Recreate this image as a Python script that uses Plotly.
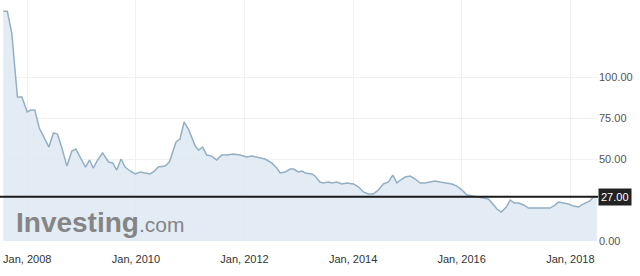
import plotly.graph_objects as go

dates = [
    "2007-07-24", "2007-08-20", "2007-09-19", "2007-10-10", "2007-10-27", "2007-11-26",
    "2008-01-01", "2008-01-25", "2008-02-21", "2008-03-22", "2008-04-23", "2008-05-26",
    "2008-06-25", "2008-07-22", "2008-08-21", "2008-09-24", "2008-10-27", "2008-11-23",
    "2008-12-29", "2009-01-27", "2009-02-23", "2009-03-20", "2009-04-19", "2009-05-22",
    "2009-07-01", "2009-07-29", "2009-08-25", "2009-09-23", "2009-10-20", "2009-11-23",
    "2009-12-27", "2010-01-30", "2010-03-03", "2010-04-06", "2010-04-28", "2010-06-01",
    "2010-07-16", "2010-08-14", "2010-09-10", "2010-09-28", "2010-10-25", "2010-11-21",
    "2010-12-20", "2011-01-12", "2011-02-04", "2011-02-26", "2011-03-26", "2011-04-22",
    "2011-05-25", "2011-06-28", "2011-08-01", "2011-09-04", "2011-10-18", "2011-12-02",
    "2012-01-17", "2012-02-20", "2012-03-23", "2012-05-18", "2012-07-02", "2012-08-06",
    "2012-08-28", "2012-10-01", "2012-11-04", "2012-11-26", "2012-12-30", "2013-01-22",
    "2013-02-13", "2013-03-29", "2013-04-20", "2013-05-23", "2013-06-15", "2013-07-18",
    "2013-08-10", "2013-09-13", "2013-10-17", "2013-11-20", "2014-01-04", "2014-02-07",
    "2014-03-11", "2014-04-14", "2014-05-17", "2014-06-20", "2014-07-23", "2014-08-26",
    "2014-09-25", "2014-10-22", "2014-11-25", "2014-12-17", "2015-01-20", "2015-02-23",
    "2015-03-27", "2015-04-30", "2015-06-02", "2015-07-06", "2015-08-09", "2015-09-23",
    "2015-10-27", "2015-11-30", "2016-01-03", "2016-02-06", "2016-03-20", "2016-05-04",
    "2016-06-07", "2016-06-29", "2016-07-29", "2016-08-25", "2016-09-23", "2016-10-27",
    "2016-11-23", "2016-12-20", "2017-01-18", "2017-02-21", "2017-03-25", "2017-04-28",
    "2017-05-31", "2017-07-04", "2017-08-18", "2017-09-21", "2017-10-13", "2017-11-16",
    "2017-12-19", "2018-01-22", "2018-02-25", "2018-03-18", "2018-04-21", "2018-05-13",
    "2018-06-05", "2018-06-28",
]
values = [
    140.2, 140.2, 126.8, 106.1, 87.8, 87.8,
    78.7, 79.9, 79.9, 68.9, 62.8, 57.3,
    65.9, 65.2, 56.7, 45.7, 54.9, 56.1,
    50.0, 45.1, 49.4, 44.5, 49.4, 53.7,
    48.2, 47.6, 43.3, 50.0, 45.1, 42.7,
    40.9, 42.1, 41.5, 40.9, 42.1, 45.1,
    45.7, 48.2, 55.5, 60.4, 62.2, 72.6,
    68.3, 62.8, 57.9, 55.5, 57.3, 52.4,
    51.8, 49.4, 52.4, 52.4, 53.0, 52.4,
    51.2, 51.8, 51.2, 50.0, 47.6, 44.5,
    41.5, 42.1, 43.9, 43.9, 42.1, 42.7,
    41.5, 40.9, 39.6, 36.0, 35.4, 36.0,
    35.4, 36.0, 34.8, 35.4, 34.8, 32.9,
    29.9, 28.7, 28.7, 31.1, 34.8, 36.0,
    40.2, 35.4, 37.8, 39.0, 39.6, 37.8,
    35.4, 35.4, 36.0, 36.6, 36.0, 35.4,
    34.8, 33.5, 31.1, 28.0, 27.4, 26.8,
    26.2, 25.6, 22.6, 19.5, 17.7, 20.7,
    25.0, 23.2, 23.2, 22.0, 20.1, 20.1,
    20.1, 20.1, 20.1, 22.0, 23.8, 23.2,
    22.6, 21.3, 20.7, 22.0, 23.2, 24.4,
    26.8, 27.0,
]
x_tick_vals = ["2008-01-01", "2010-01-01", "2012-01-01", "2014-01-01", "2016-01-01", "2018-01-01"]
x_tick_text = ["Jan, 2008", "Jan, 2010", "Jan, 2012", "Jan, 2014", "Jan, 2016", "Jan, 2018"]
y_tick_vals = [0, 50, 75, 100]
y_tick_text = ["0.00", "50.00", "75.00", "100.00"]
current_value = 27.0
current_label = "27.00"

FONT = "Liberation Sans, Arial, sans-serif"

fig = go.Figure()
fig.add_trace(go.Scatter(
    x=dates, y=values, mode="lines",
    line=dict(color="#93afc4", width=1.5),
    fill="tozeroy", fillcolor="rgba(222,233,243,0.85)",
    hoverinfo="skip",
))

fig.add_shape(type="line", xref="paper", yref="y", x0=-0.01, x1=1, y0=current_value, y1=current_value,
              line=dict(color="#1a1a1a", width=2))

fig.add_annotation(xref="paper", yref="y", x=1.0, y=current_value, xanchor="left", yanchor="middle",
                   text=current_label, showarrow=False, bgcolor="#222222",
                   font=dict(color="white", size=11, family=FONT), borderpad=2)

fig.add_annotation(xref="paper", yref="paper", x=0.018, y=0.005, xanchor="left", yanchor="bottom",
                   text="<b>Investing</b><span style='font-size:21px'>.com</span>", showarrow=False,
                   font=dict(color="#858585", size=28, family=FONT))

fig.update_layout(
    width=640, height=276,
    margin=dict(l=3, r=42, t=0, b=35),
    paper_bgcolor="white", plot_bgcolor="white",
    showlegend=False,
    xaxis=dict(
        type="date", range=["2007-07-22", "2018-07-06"],
        tickvals=x_tick_vals, ticktext=x_tick_text,
        showgrid=True, gridcolor="#f1f1f1", gridwidth=1,
        zeroline=False, showline=False, ticks="",
        ticklabelstandoff=10,
        tickfont=dict(size=11, color="#333333", family=FONT),
        fixedrange=True,
    ),
    yaxis=dict(
        side="right", range=[0, 147],
        tickvals=y_tick_vals, ticktext=y_tick_text,
        showgrid=True, gridcolor="#f1f1f1", gridwidth=1,
        zeroline=False, showline=False, ticks="",
        tickfont=dict(size=11, color="#555555", family=FONT),
        fixedrange=True,
    ),
)

fig.write_html("out.html")
